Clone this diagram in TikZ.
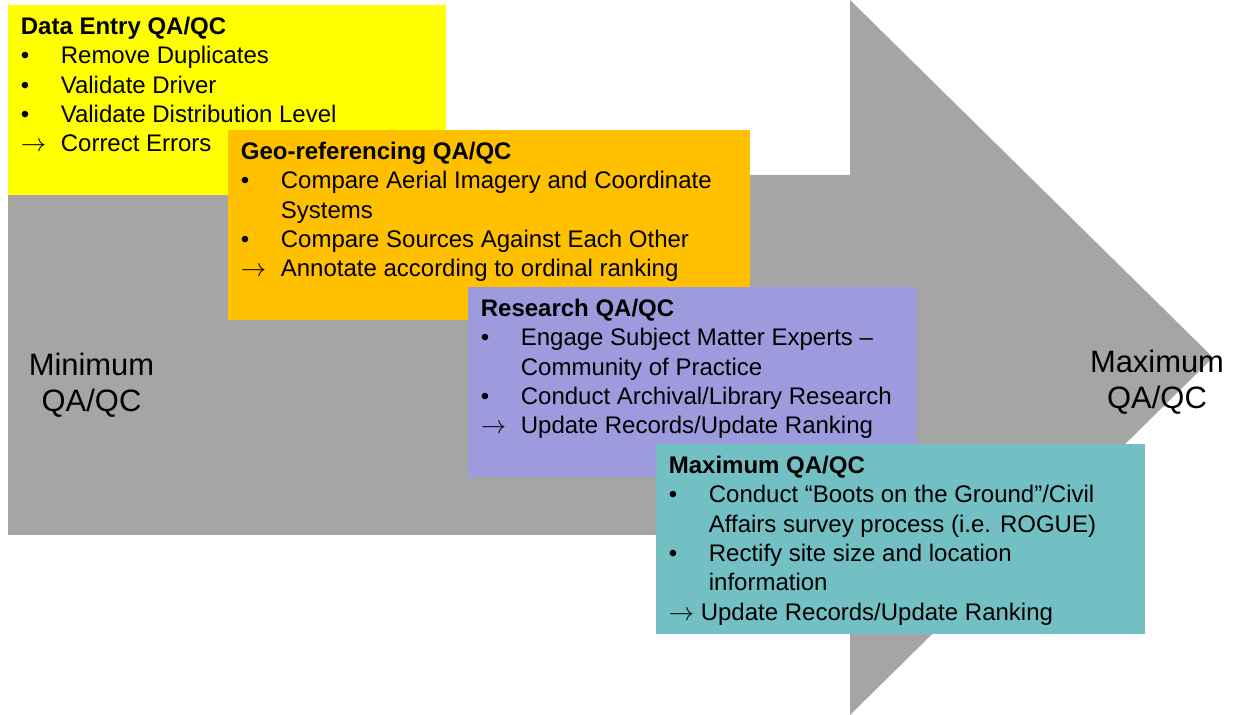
\documentclass[tikz,border=0pt]{standalone}
\usepackage{fontspec}
\setmainfont{Liberation Sans}
\usetikzlibrary{positioning}
\definecolor{arrowgray}{HTML}{A5A5A5}
\definecolor{entryyellow}{HTML}{FFFF00}
\definecolor{geoorange}{HTML}{FFC000}
\definecolor{researchpurple}{HTML}{9D9BDD}
\definecolor{maxteal}{HTML}{72BFC4}
\newcommand{\bitem}{\makebox[0.8cm][l]{•}}
\newcommand{\aitem}{\makebox[0.8cm][l]{$\rightarrow$}}
\newcommand{\cont}{\hspace*{0.8cm}}
\newcommand{\boxtext}[2]{\parbox[t][3.8cm][t]{#1}{\fontsize{13.66pt}{16.7pt}\selectfont
  \leftskip=0.25cm\rule{0pt}{0.58cm}#2}}

\begin{document}
\begin{tikzpicture}[x=0.02cm,y=-0.02cm,
    box/.style={anchor=north west,inner sep=0pt},
    end label/.style={align=center,font=\fontsize{17.6pt}{20.5pt}\selectfont}]

    \useasboundingbox (0,0) rectangle (1233,715);
    \fill[arrowgray] (8,175) -- (850,175) -- (850,0) -- (1213,357.5) -- (850,715)
        -- (850,535) -- (8,535) -- cycle;

    \node[end label] (min) at (91.5,385) {Minimum\\QA/QC};
    \node[end label] (max) at (1157,382) {Maximum\\QA/QC};

    \node[box,fill=entryyellow] (entry) at (8,5) {\boxtext{8.76cm}{%
        \textbf{Data Entry QA/QC}\\
        \bitem Remove Duplicates\\
        \bitem Validate Driver\\
        \bitem Validate Distribution Level\\
        \aitem Correct Errors}};
    \node[box,fill=geoorange] (geo) at (228,130) {\boxtext{10.44cm}{%
        \textbf{Geo-referencing QA/QC}\\
        \bitem Compare Aerial Imagery and Coordinate\\
        \cont Systems\\
        \bitem Compare Sources Against Each Other\\
        \aitem Annotate according to ordinal ranking}};
    \node[box,fill=researchpurple] (research) at (468,287) {\boxtext{8.98cm}{%
        \textbf{Research QA/QC}\\
        \bitem Engage Subject Matter Experts –\\
        \cont Community of Practice\\
        \bitem Conduct Archival/Library Research\\
        \aitem Update Records/Update Ranking}};
    \node[box,fill=maxteal] (maximum) at (656,444) {\boxtext{9.78cm}{%
        \textbf{Maximum QA/QC}\\
        \bitem Conduct “Boots on the Ground”/Civil\\
        \cont Affairs survey process (i.e. ROGUE)\\
        \bitem Rectify site size and location\\
        \cont information\\
        $\rightarrow$ Update Records/Update Ranking}};
\end{tikzpicture}
\end{document}
